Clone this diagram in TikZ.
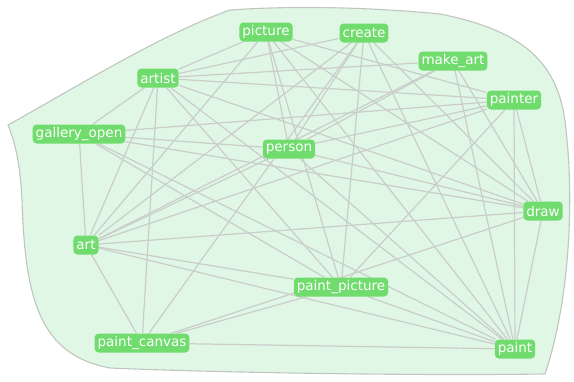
\documentclass[tikz,border=0pt]{standalone}
\usepackage{fontspec}
\setsansfont{DejaVu Sans}
\usetikzlibrary{backgrounds}
\definecolor{hullFill}{HTML}{E0F7E5}
\definecolor{hullStroke}{HTML}{BFC6BF}
\definecolor{termFill}{HTML}{70DC6E}
\definecolor{edgeGray}{HTML}{CACDCA}

\begin{document}
\begin{tikzpicture}[
    x=1pt, y=-1pt,
    font=\sffamily\fontsize{13.5}{14}\selectfont,
    term/.style={
        rectangle, rounded corners=4pt,
        fill=termFill, text=white,
        inner xsep=3pt, inner ysep=2pt,
        minimum height=19pt
    },
    link/.style={
        draw=edgeGray, line width=1.2pt
    },
    hull/.style={
        fill=hullFill, draw=hullStroke, line width=1.1pt
    }
]
    \useasboundingbox (0,0) rectangle (574,381);

    \node[term] (picture) at (266,32) {picture};
    \node[term] (create) at (364,33) {create};
    \node[term] (makeart) at (453,61) {make\_art};
    \node[term] (artist) at (158,78) {artist};
    \node[term] (painter) at (514,100) {painter};
    \node[term] (gallery) at (79,134) {gallery\_open};
    \node[term] (person) at (289,149) {person};
    \node[term] (draw) at (543,211) {draw};
    \node[term] (art) at (86,245) {art};
    \node[term] (paintpic) at (341,287) {paint\_picture};
    \node[term] (canvas) at (142,343) {paint\_canvas};
    \node[term] (paint) at (515,349) {paint};

    \begin{pgfonlayer}{background}
    % the group outline
    \path[hull] (8,125) .. controls (80,85) and (160,35) .. (230,10)
        .. controls (300,5) and (380,8) .. (440,14)
        .. controls (520,30) and (560,60) .. (566,130)
        .. controls (574,200) and (570,300) .. (545,374)
        .. controls (400,376) and (200,372) .. (110,368)
        .. controls (40,355) and (25,300) .. (22,200)
        .. controls (20,160) and (14,140) .. (8,125) -- cycle;

    \draw[link] (artist) -- (picture);
    \draw[link] (artist) -- (create);
    \draw[link] (artist) -- (makeart);
    \draw[link] (artist) -- (painter);
    \draw[link] (artist) -- (draw);
    \draw[link] (artist) -- (paint);
    \draw[link] (artist) -- (paintpic);
    \draw[link] (artist) -- (gallery);
    \draw[link] (artist) -- (art);
    \draw[link] (artist) -- (canvas);
    \draw[link] (gallery) -- (art);
    \draw[link] (gallery) -- (person);
    \draw[link] (gallery) -- (draw);
    \draw[link] (gallery) -- (paint);
    \draw[link] (gallery) -- (painter);
    \draw[link] (gallery) -- (paintpic);
    \draw[link] (picture) -- (person);
    \draw[link] (picture) -- (art);
    \draw[link] (picture) -- (paintpic);
    \draw[link] (picture) -- (draw);
    \draw[link] (picture) -- (paint);
    \draw[link] (picture) -- (painter);
    \draw[link] (create) -- (art);
    \draw[link] (create) -- (paintpic);
    \draw[link] (create) -- (paint);
    \draw[link] (create) -- (draw);
    \draw[link] (create) -- (canvas);
    \draw[link] (create) -- (person);
    \draw[link] (makeart) -- (art);
    \draw[link] (makeart) -- (paint);
    \draw[link] (makeart) -- (draw);
    \draw[link] (makeart) -- (person);
    \draw[link] (painter) -- (art);
    \draw[link] (painter) -- (paint);
    \draw[link] (painter) -- (paintpic);
    \draw[link] (painter) -- (draw);
    \draw[link] (painter) -- (person);
    \draw[link] (person) -- (draw);
    \draw[link] (person) -- (paint);
    \draw[link] (person) -- (art);
    \draw[link] (art) -- (draw);
    \draw[link] (art) -- (paint);
    \draw[link] (art) -- (paintpic);
    \draw[link] (art) -- (canvas);
    \draw[link] (canvas) -- (paint);
    \draw[link] (canvas) -- (paintpic);
    \draw[link] (canvas) -- (draw);
    \draw[link] (paintpic) -- (paint);
    \draw[link] (draw) -- (paint);
    \end{pgfonlayer}
\end{tikzpicture}
\end{document}
